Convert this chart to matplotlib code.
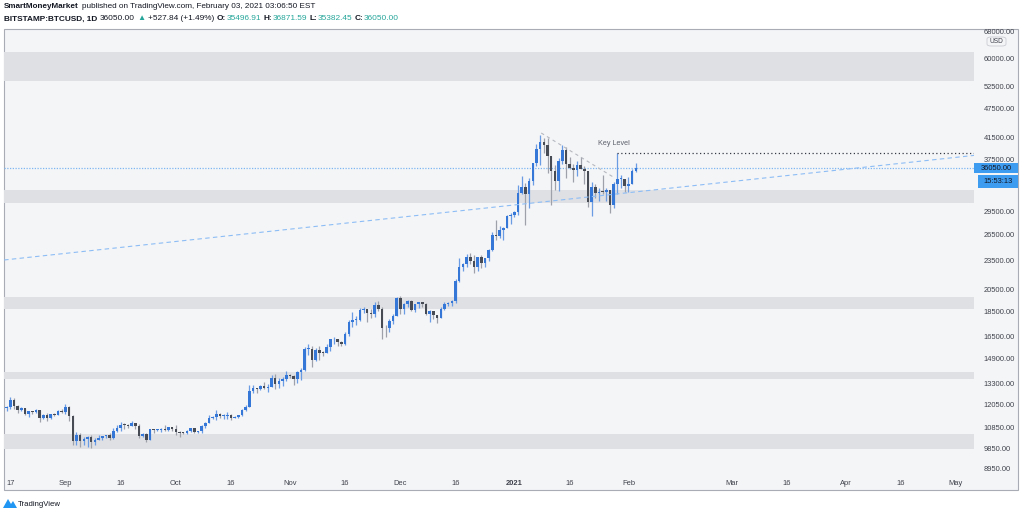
import matplotlib
matplotlib.use("Agg")
import matplotlib.pyplot as plt
import matplotlib.dates as mdates
from matplotlib.ticker import FixedLocator, NullLocator, FixedFormatter
from matplotlib.patches import Rectangle, FancyBboxPatch, Polygon
import numpy as np
import pandas as pd

# ---------------- data ----------------
dates = pd.date_range("2020-08-15", "2021-02-03", freq="D")

opens = [11770, 11860, 11910, 12300, 11960, 11750, 11860, 11520, 11680, 11650, 11760, 11330, 11460, 11320, 11520, 11480, 11710,
         11650, 11930, 11400, 10170, 10470, 10160, 10250, 10370, 10120, 10230, 10340, 10390, 10440, 10330, 10680, 10790, 10950,
         10940, 10930, 11080, 10920, 10420, 10530, 10240, 10740, 10690, 10730, 10770, 10700, 10840,
         10780, 10620, 10570, 10550, 10670, 10790, 10600, 10670, 10920, 11050, 11300, 11380, 11540, 11420, 11430, 11500, 11320,
         11360, 11500, 11750, 11920, 12810, 12990, 12930, 13120, 13030, 13070, 13650, 13280, 13460, 13560,
         13800, 13760, 13550, 14020, 14150, 15590, 15590, 14840, 15480, 15330, 15300, 15700, 16290, 16330, 16070, 15960, 16720,
         17660, 17800, 17820, 18670, 18720, 18400, 18370, 19150, 18730, 17150, 17140, 17720, 18180,
         19700, 18770, 19220, 19440, 18670, 19160, 19370, 19180, 18320, 18550, 18250, 18030, 18800, 19170, 19270, 19440, 21350,
         22800, 23130, 23860, 23480, 22740, 23820, 23250, 23720, 24690, 26440, 26250, 27030, 27360, 28880,
         28950, 29380, 32170, 33000, 31990, 33970, 36820, 39440, 40580, 40150, 38200, 35570, 33960, 37320, 39150, 36800, 36050,
         35800, 36640, 35910, 35520, 30830, 33000, 32090, 32270, 32250, 32510, 30400, 33400, 34270, 34300,
         33110, 33500, 35497]
highs = [11990, 11940, 12470, 12400, 12020, 11890, 11880, 11690, 11710, 11820, 11770, 11530, 11590, 11550, 11590, 11720, 11780,
         12070, 11950, 11470, 10620, 10570, 10350, 10400, 10440, 10340, 10480, 10400, 10480, 10570, 10790, 10940, 11100, 11040,
         11030, 11180, 11080, 10990, 10580, 10540, 10780, 10770, 10780, 10800, 10950, 10860, 10850,
         10940, 10660, 10600, 10690, 10800, 10800, 10680, 10940, 11110, 11480, 11440, 11720, 11560, 11550, 11630, 11540, 11410,
         11500, 11810, 12000, 13220, 13190, 13030, 13160, 13350, 13240, 13790, 13850, 13640, 13690, 14080,
         13900, 13820, 14070, 14240, 15750, 15960, 15770, 15650, 15830, 15460, 15960, 16340, 16490, 16330, 16140, 16870, 17860,
         18480, 18130, 18810, 18970, 18760, 18760, 19400, 19480, 18900, 17450, 17890, 18330, 19850,
         19920, 19300, 19560, 19520, 19180, 19420, 19400, 19290, 18640, 18560, 18280, 18930, 19410, 19340, 19560, 21560, 23770,
         23250, 24170, 24280, 24080, 23830, 24100, 23800, 24770, 26860, 28380, 27500, 27380, 28990, 29300,
         29600, 33300, 34790, 33600, 34460, 36940, 40350, 41950, 41370, 41350, 38200, 36620, 37800, 40100, 39700, 37900, 36800,
         37300, 37850, 36400, 35600, 33800, 33480, 32900, 34850, 32900, 32550, 33800, 38700, 34900, 34300,
         34650, 35900, 36872]
lows = [11690, 11680, 11780, 11810, 11570, 11670, 11490, 11380, 11530, 11600, 11120, 11260, 11150, 11290, 11430, 11460, 11580,
        11540, 11170, 10010, 9990, 9880, 10010, 9900, 9850, 10000, 10200, 10200, 10300, 10200, 10270, 10620, 10680, 10760,
        10800, 10900, 10770, 10300, 10360, 10140, 10200, 10570, 10650, 10630, 10640, 10640, 10670,
        10440, 10380, 10500, 10510, 10620, 10540, 10560, 10540, 10830, 11040, 11290, 11220, 11300, 11280, 11260, 11220, 11300,
        11340, 11400, 11680, 11900, 12700, 12730, 12890, 12920, 12780, 13060, 12950, 12990, 13130, 13440,
        13620, 13220, 13300, 13530, 14100, 15190, 14370, 14720, 14830, 15100, 15280, 15450, 15950, 15770, 15800, 15880, 16560,
        17230, 17380, 17770, 18420, 17650, 18010, 18050, 18590, 16320, 16500, 16900, 17510, 18170,
        18330, 18340, 18920, 18580, 18510, 18870, 18910, 18210, 17650, 17910, 17580, 18020, 18710, 19000, 19050, 19290, 21230,
        22350, 22800, 23080, 22170, 22360, 22700, 22740, 23450, 24520, 25840, 26100, 25860, 27320, 27850,
        28700, 29000, 32000, 27700, 29900, 33350, 36330, 36500, 38720, 35200, 30400, 32500, 32410, 36700, 34450, 35900, 33850,
        34800, 35850, 33400, 30100, 28800, 31400, 31000, 31950, 30900, 29200, 29900, 31950, 32900, 32300,
        32300, 33450, 35382]
closes = [11860, 11910, 12300, 11960, 11750, 11860, 11520, 11680, 11650, 11760, 11330, 11460, 11320, 11520, 11480, 11710, 11650,
          11930, 11400, 10170, 10470, 10160, 10250, 10370, 10120, 10230, 10340, 10390, 10440, 10330, 10680, 10790, 10950, 10940,
          10930, 11080, 10920, 10420, 10530, 10240, 10740, 10690, 10730, 10770, 10700, 10840, 10780,
          10620, 10570, 10550, 10670, 10790, 10600, 10670, 10920, 11050, 11300, 11380, 11540, 11420, 11430, 11500, 11320, 11360,
          11500, 11750, 11920, 12810, 12990, 12930, 13120, 13030, 13070, 13650, 13280, 13460, 13560, 13800,
          13760, 13550, 14020, 14150, 15590, 15590, 14840, 15480, 15330, 15300, 15700, 16290, 16330, 16070, 15960, 16720, 17660,
          17800, 17820, 18670, 18720, 18400, 18370, 19150, 18730, 17150, 17140, 17720, 18180, 19700,
          18770, 19220, 19440, 18670, 19160, 19370, 19180, 18320, 18550, 18250, 18030, 18800, 19170, 19270, 19440, 21350, 22800,
          23130, 23860, 23480, 22740, 23820, 23250, 23720, 24690, 26440, 26250, 27030, 27360, 28880, 28950,
          29380, 32170, 33000, 31990, 33970, 36820, 39440, 40580, 40150, 38200, 35570, 33960, 37320, 39150, 36800, 36050, 35800,
          36640, 35910, 35520, 30830, 33000, 32090, 32270, 32250, 32510, 30400, 33400, 34270, 34300, 33110,
          33500, 35500, 36050]

zones = [(54000, 61700), (30650, 32560), (18760, 19800), (13560, 14010), (9805, 10510)]
trend_dates = ["2020-08-15 08:00", "2021-05-06 22:00"]
trend_prices = [23540, 38290]
desc_dates = ["2021-01-08 07:00", "2021-01-28 07:00"]
desc_prices = [42400, 34420]
key_level = 38650
key_start = "2021-01-29"
last_price = 36050

ytick_vals = [68000, 60000, 52500, 47500, 41500, 37500, 29500, 26500, 23500, 20500, 18500, 16500, 14900, 13300, 12050,
              10850, 9850, 8950]
xtick_dates = ["2020-08-17", "2020-09-01", "2020-09-16", "2020-10-01", "2020-10-16", "2020-11-01", "2020-11-16",
               "2020-12-01", "2020-12-16", "2021-01-01", "2021-01-16", "2021-02-01", "2021-03-01", "2021-03-16",
               "2021-04-01", "2021-04-16", "2021-05-01"]
xtick_labels = ["17", "Sep", "16", "Oct", "16", "Nov", "16", "Dec", "16", "2021", "16", "Feb", "Mar", "16", "Apr", "16", "May"]

# ---------------- style ----------------
W, H = 1024, 516
FONT = ["Liberation Sans", "DejaVu Sans"]
plt.rcParams["font.family"] = FONT
BG = "#F4F5F7"
ZONE = "#DFE0E4"
UP_BODY, DN_BODY = "#3577D6", "#474B54"
UP_WICK, DN_WICK = "#6A9CE4", "#9EA1A9"
TXT = "#3F424C"
DARK = "#131722"
TEAL = "#26A69A"


def fx(x):
    return x / W


def fy(y):
    return 1 - y / H


fig = plt.figure(figsize=(W / 100, H / 100), dpi=100)
fig.patch.set_facecolor("white")

frame = Rectangle((fx(4), fy(490)), 1014 / W, 461 / H, transform=fig.transFigure,
                  facecolor=BG, edgecolor="#A9ACB4", linewidth=0.8, zorder=-5)
fig.add_artist(frame)

ax = fig.add_axes([fx(4), fy(473), 970 / W, 444 / H])
ax.set_facecolor("none")
for s in ax.spines.values():
    s.set_visible(False)

ax.set_yscale("log")
ax.set_ylim(8773, 68650)
sep1 = mdates.date2num(pd.Timestamp("2020-09-01"))
ax.set_xlim(sep1 - 16.7, sep1 + 246.9)

# zones
for lo, hi in zones:
    ax.axhspan(lo, hi, color=ZONE, lw=0, zorder=1)

# candles
x = mdates.date2num(dates)
o = np.array(opens, float)
h = np.array(highs, float)
l = np.array(lows, float)
c = np.array(closes, float)
up = c >= o
ax.vlines(x[up], l[up], h[up], color=UP_WICK, lw=0.9, zorder=3)
ax.vlines(x[~up], l[~up], h[~up], color=DN_WICK, lw=0.9, zorder=3)
bottom = np.minimum(o, c)
height = np.maximum(np.abs(c - o), bottom * 0.004)
ax.bar(x, height, bottom=bottom, width=0.7, color=np.where(up, UP_BODY, DN_BODY), linewidth=0, zorder=4)

# drawings
ax.plot(mdates.date2num(pd.to_datetime(trend_dates)), trend_prices, color="#8DBDF5", lw=0.8,
        dashes=(4, 3), zorder=5)
ax.plot(mdates.date2num(pd.to_datetime(desc_dates)), desc_prices, color="#B5B8BF", lw=0.8,
        dashes=(3, 3), zorder=5)
ax.axhline(last_price, color="#7FB6F2", lw=0.9, ls=(0, (1, 1.2)), zorder=2)
ks = mdates.date2num(pd.Timestamp(key_start))
ax.hlines(key_level, ks, ax.get_xlim()[1], color="#363A45", lw=0.9, linestyles=(0, (1, 2)), zorder=5)
ax.text(ks - 1.0, key_level * 1.043, "Key Level", fontsize=5.2, color="#5D606B", ha="center", va="center", zorder=6)

# axes ticks
ax.yaxis.tick_right()
ax.yaxis.set_major_locator(FixedLocator(ytick_vals))
ax.yaxis.set_major_formatter(FixedFormatter([f"{v:.2f}" for v in ytick_vals]))
ax.yaxis.set_minor_locator(NullLocator())
ax.tick_params(axis="y", length=0, pad=7, labelsize=5.4, labelcolor=TXT)
ax.set_xticks(mdates.date2num(pd.to_datetime(xtick_dates)))
ax.set_xticklabels(xtick_labels)
ax.tick_params(axis="x", length=0, pad=5, labelsize=5.4, labelcolor=TXT)
for lab in ax.get_xticklabels():
    if lab.get_text() == "2021":
        lab.set_fontweight("bold")

# price labels on the right axis
fig.canvas.draw()
py = ax.transData.transform((ax.get_xlim()[0], last_price))[1]
py_top = H - py
fig.add_artist(Rectangle((fx(974), fy(py_top + 5)), 44 / W, 10 / H, transform=fig.transFigure,
                         facecolor="#3D9BF0", edgecolor="none", zorder=10))
fig.text(fx(996), fy(py_top), f"{last_price:.2f}", fontsize=5.4, color=DARK, ha="center", va="center", zorder=11)
fig.add_artist(Rectangle((fx(978), fy(py_top + 20)), 40 / W, 13 / H, transform=fig.transFigure,
                         facecolor="#3D9BF0", edgecolor="none", zorder=10))
fig.text(fx(998), fy(py_top + 13.5), "15:53:13", fontsize=5.4, color=DARK, ha="center", va="center", zorder=11)
fig.add_artist(FancyBboxPatch((fx(987), fy(46)), 19 / W, 9 / H, transform=fig.transFigure,
                              boxstyle="round,pad=0,rounding_size=0.004", facecolor=BG, edgecolor="#C9CBD1",
                              lw=0.6, zorder=10))
fig.text(fx(996.5), fy(41.5), "USD", fontsize=4.8, color=TXT, ha="center", va="center", zorder=11)

# header
renderer = fig.canvas.get_renderer()


def line(segs, y, fs, gapk):
    space = 0.278 * fs * 100 / 72
    xpos = 4.0
    for text, color, weight, gap in segs:
        t = fig.text(fx(xpos), fy(y), text, fontsize=fs, color=color, fontweight=weight,
                     ha="left", va="center", family=FONT)
        bb = t.get_window_extent(renderer)
        xpos = bb.x1 + (space * gapk if gap else 0.3)


line([("SmartMoneyMarket", DARK, "bold", True),
      ("published on TradingView.com, February 03, 2021 03:06:50 EST", DARK, "normal", False)], 7, 5.9, 1.3)
line([("BITSTAMP:BTCUSD, 1D", DARK, "bold", True),
      ("36050.00", DARK, "normal", True),
      ("\u25B2", TEAL, "normal", True),
      ("+527.84 (+1.49%)", DARK, "normal", True),
      ("O:", DARK, "bold", False), ("35496.91", TEAL, "normal", True),
      ("H:", DARK, "bold", False), ("36871.59", TEAL, "normal", True),
      ("L:", DARK, "bold", False), ("35382.45", TEAL, "normal", True),
      ("C:", DARK, "bold", False), ("36050.00", TEAL, "normal", False)], 19, 5.95, 1.1)

# footer
logo = Polygon([(fx(3), fy(508)), (fx(8), fy(499)), (fx(11), fy(504)), (fx(13), fy(501)), (fx(17), fy(508))],
               closed=True, transform=fig.transFigure, facecolor="#2196F3", edgecolor="none")
fig.add_artist(logo)
fig.text(fx(18), fy(504), "TradingView", fontsize=5.6, color=DARK, ha="left", va="center")

fig.savefig("out.png", dpi=100, facecolor="white")
